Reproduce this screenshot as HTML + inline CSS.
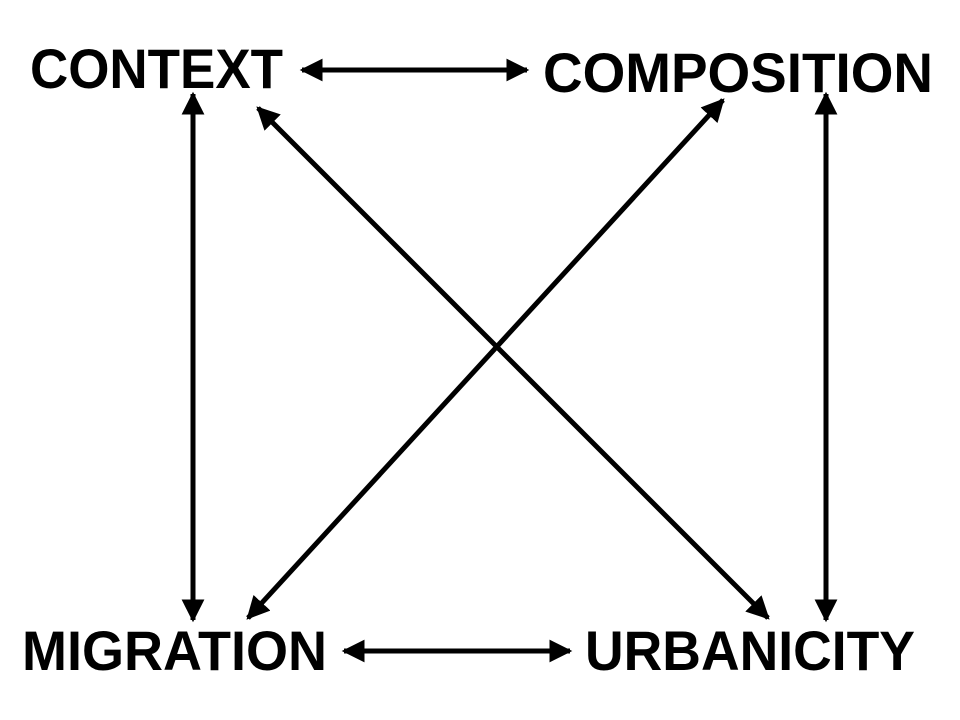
<!DOCTYPE html>
<html>
<head>
<meta charset="utf-8">
<style>
  html, body { margin: 0; padding: 0; background: #fff; }
  svg { display: block; }
  text { font-family: "Liberation Sans", Arial, sans-serif; font-weight: bold; fill: #000; }
</style>
</head>
<body>
<svg width="960" height="720" viewBox="0 0 960 720">
  <defs>
    <marker id="ah" viewBox="0 0 10 10" refX="9" refY="5" markerWidth="4.6" markerHeight="4.6" orient="auto-start-reverse" markerUnits="strokeWidth">
      <path d="M0,0 L10,5 L0,10 Z" fill="#000"/>
    </marker>
  </defs>

  <text x="30" y="88" font-size="56" textLength="253" lengthAdjust="spacingAndGlyphs">CONTEXT</text>
  <text x="543" y="92" font-size="56" textLength="390" lengthAdjust="spacingAndGlyphs">COMPOSITION</text>
  <text x="22" y="670" font-size="56" textLength="305" lengthAdjust="spacingAndGlyphs">MIGRATION</text>
  <text x="585" y="670" font-size="56" textLength="330" lengthAdjust="spacingAndGlyphs">URBANICITY</text>

  <g stroke="#000" stroke-width="5" fill="none">
    <line x1="302" y1="70" x2="527" y2="70" marker-start="url(#ah)" marker-end="url(#ah)"/>
    <line x1="344" y1="651" x2="570" y2="651" marker-start="url(#ah)" marker-end="url(#ah)"/>
    <line x1="193" y1="94" x2="193" y2="620" marker-start="url(#ah)" marker-end="url(#ah)"/>
    <line x1="826" y1="94" x2="826" y2="620" marker-start="url(#ah)" marker-end="url(#ah)"/>
    <line x1="258" y1="108" x2="768" y2="618" marker-start="url(#ah)" marker-end="url(#ah)"/>
    <line x1="723" y1="100" x2="248" y2="618" marker-start="url(#ah)" marker-end="url(#ah)"/>
  </g>
</svg>
</body>
</html>
